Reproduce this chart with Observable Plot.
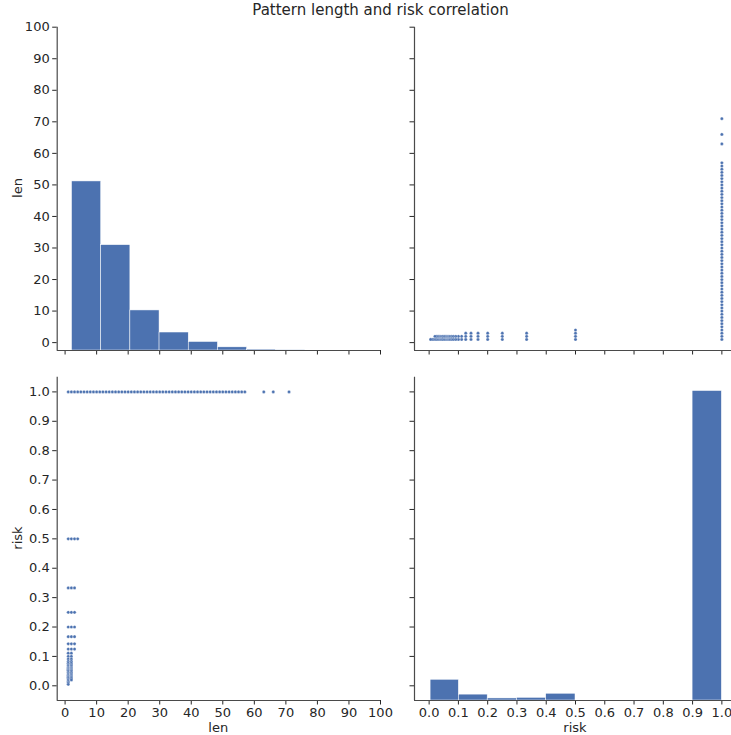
<!DOCTYPE html>
<html><head><meta charset="utf-8">
<script src="https://cdn.jsdelivr.net/npm/d3@7"></script>
<script src="https://cdn.jsdelivr.net/npm/@observablehq/plot@0.6"></script>
<style>
body{margin:0;background:#fff;font-family:"DejaVu Sans",sans-serif;color:#262626}
#fig{position:relative;width:731px;height:735px;overflow:hidden;background:#fff}
.p{position:absolute}
.lbl{position:absolute;font-size:13px;white-space:nowrap;line-height:1}
#title{position:absolute;font-size:15px;white-space:nowrap;line-height:15px;transform:translateX(-50%)}
</style></head><body><div id="fig"></div>
<script>
// ---------- data ----------
const title = "Pattern length and risk correlation";
const lenTicks = [0, 10, 20, 30, 40, 50, 60, 70, 80, 90, 100];
const riskTicks = [0, 0.1, 0.2, 0.3, 0.4, 0.5, 0.6, 0.7, 0.8, 0.9, 1.0];
const lenDomain = [-2.5, 100];
const riskDomain = [-0.05, 1.05];

// lengths of patterns whose risk is 1.0
const lenAtRiskOne = [1,2,3,4,5,6,7,8,9,10,11,12,13,14,15,16,17,18,19,20,21,22,23,24,25,26,27,28,29,30,31,32,33,34,35,36,37,38,39,40,41,42,43,44,45,46,47,48,49,50,51,52,53,54,55,56,57,63,66,71];
// risk values of short patterns (len 1..4)
const riskAtLen1 = [0.5,0.333,0.25,0.2,0.167,0.143,0.125,0.111,0.1,0.091,0.083,0.077,0.071,0.067,0.062,0.059,0.056,0.053,0.05,0.045,0.04,0.036,0.032,0.029,0.025,0.02,0.015,0.01,0.005];
const riskAtLen2 = [0.5,0.333,0.25,0.2,0.167,0.143,0.125,0.111,0.1,0.091,0.083,0.077,0.071,0.067,0.062,0.059,0.056,0.053,0.05,0.045,0.04,0.036,0.032,0.029,0.025,0.02];
const riskAtLen3 = [0.5,0.333,0.25,0.2,0.167,0.143,0.125];
const riskAtLen4 = [0.5];

// diagonal histograms (bar tops expressed on the panel's axis)
const lenBinEdges = [2.2, 11.45, 20.7, 29.95, 39.2, 48.45, 57.7, 66.95, 76.2];
const lenBarTop = [51.1, 30.9, 10.2, 3.2, 0.2, -1.5, -2.2, -2.35];
const riskBinEdges = [0.005, 0.1015, 0.2, 0.3, 0.4, 0.5, 0.6, 0.7, 0.8, 0.9, 1.0];
const riskBarTop = [0.0205, -0.03, -0.043, -0.041, -0.027, null, null, null, null, 1.003];

// ---------- build tables ----------
const points = [
  ...lenAtRiskOne.map(l => ({len: l, risk: 1})),
  ...riskAtLen1.map(r => ({len: 1, risk: r})),
  ...riskAtLen2.map(r => ({len: 2, risk: r})),
  ...riskAtLen3.map(r => ({len: 3, risk: r})),
  ...riskAtLen4.map(r => ({len: 4, risk: r}))
];
const lenBars = lenBarTop.map((t, i) => ({x1: lenBinEdges[i], x2: lenBinEdges[i+1], y1: lenDomain[0], y2: t}));
const riskBars = riskBarTop.map((t, i) => ({x1: riskBinEdges[i], x2: riskBinEdges[i+1], y1: riskDomain[0], y2: t})).filter(d => d.y2 != null);

const BLUE = "#4c72b0";
const SPINE = "#4a4a4a";
const fig = document.getElementById("fig");
const fmt1 = d3.format(".1f");
const none = () => "";

function axisOpts(domain, ticks, format) {
  return {domain, ticks, tickFormat: format, tickSize: 4.5, tickPadding: 3, label: null};
}

function panel(pos, opts) {
  const chart = Plot.plot({
    width: pos.width, height: pos.height,
    marginLeft: pos.ml, marginRight: pos.mr, marginTop: pos.mt, marginBottom: pos.mb,
    style: {fontFamily: "DejaVu Sans", fontSize: "13px", color: "#262626", background: "transparent", overflow: "visible"},
    x: opts.x, y: opts.y,
    marks: [
      ...opts.marks,
      Plot.ruleX([opts.x.domain[0]], {stroke: SPINE, strokeWidth: 1.2}),
      Plot.ruleY([opts.y.domain[0]], {stroke: SPINE, strokeWidth: 1.2})
    ]
  });
  chart.classList.add("p");
  chart.style.left = pos.left + "px";
  chart.style.top = pos.top + "px";
  fig.appendChild(chart);
}

const dotStyle = {r: 1.6, fill: BLUE, stroke: "white", strokeWidth: 0.3};

// top-left: len histogram
panel({left: 0, top: 0, width: 390, height: 360, ml: 56.7, mr: 10, mt: 26.7, mb: 10}, {
  x: axisOpts(lenDomain, lenTicks, none),
  y: axisOpts(lenDomain, lenTicks, d3.format("d")),
  marks: [Plot.rect(lenBars, {x1: "x1", x2: "x2", y1: "y1", y2: "y2", fill: BLUE, stroke: "white", strokeWidth: 0.5})]
});
// top-right: risk vs len
panel({left: 400, top: 0, width: 340, height: 360, ml: 14, mr: 4, mt: 26.7, mb: 10}, {
  x: axisOpts(riskDomain, riskTicks, none),
  y: axisOpts(lenDomain, lenTicks, none),
  marks: [Plot.dot(points, {x: "risk", y: "len", ...dotStyle})]
});
// bottom-left: len vs risk
panel({left: 0, top: 360, width: 390, height: 375, ml: 56.7, mr: 10, mt: 16.7, mb: 35}, {
  x: axisOpts(lenDomain, lenTicks, d3.format("d")),
  y: axisOpts(riskDomain, riskTicks, fmt1),
  marks: [Plot.dot(points, {x: "len", y: "risk", ...dotStyle})]
});
// bottom-right: risk histogram
panel({left: 400, top: 360, width: 340, height: 375, ml: 14, mr: 4, mt: 16.7, mb: 35}, {
  x: axisOpts(riskDomain, riskTicks, fmt1),
  y: axisOpts(riskDomain, riskTicks, none),
  marks: [Plot.rect(riskBars, {x1: "x1", x2: "x2", y1: "y1", y2: "y2", fill: BLUE, stroke: "white", strokeWidth: 0.5})]
});

// texts
function label(text, x, y, rotate) {
  const d = document.createElement("div");
  d.className = "lbl";
  d.textContent = text;
  d.style.left = x + "px";
  d.style.top = y + "px";
  d.style.transform = "translate(-50%,-50%)" + (rotate ? " rotate(-90deg)" : "");
  fig.appendChild(d);
}
const t = document.createElement("div");
t.id = "title"; t.textContent = title;
t.style.left = "380.5px"; t.style.top = "2.5px";
fig.appendChild(t);
label("len", 17, 188, true);
label("risk", 17, 538, true);
label("len", 218.3, 727, false);
label("risk", 575, 727, false);
</script></body></html>
